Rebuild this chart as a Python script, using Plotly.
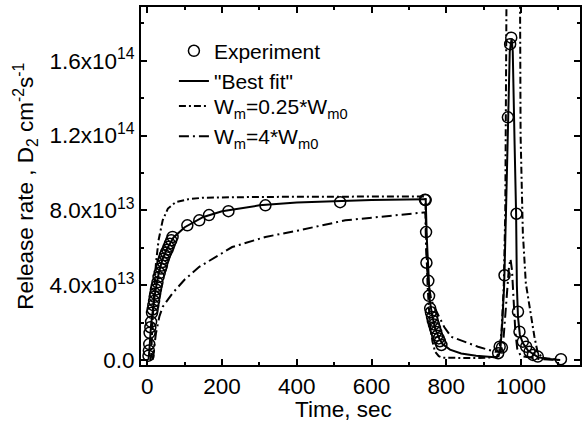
import plotly.graph_objects as go

# values in units of 1e13 D2 cm^-2 s^-1
SCALE = 1e13

# experiment points
exp_t = [3, 4, 5, 6, 8, 10, 12.5, 14, 16, 18, 19.5, 21, 23, 25, 27, 30, 33, 36.5, 39, 41, 44, 47, 50, 54, 57, 60, 64, 67.5,
         107, 139, 165, 217, 316, 516, 743,
         745, 746, 747, 752, 754, 757, 759, 762, 764, 767, 770, 773, 776, 780, 783, 787,
         939, 943, 949, 956, 965, 971, 974, 988, 992, 996, 1005, 1014, 1023, 1032, 1045, 1107]
exp_y = [0.23, 0.5, 0.85, 1.45, 1.75, 2.04, 2.52, 2.7, 2.93, 3.15, 3.38, 3.55, 3.77, 3.95, 4.15, 4.44, 4.65, 4.89, 5.05, 5.24, 5.42, 5.6, 5.75, 5.9, 6.05, 6.22, 6.4, 6.58,
         7.2, 7.47, 7.75, 7.96, 8.27, 8.44, 8.57,
         8.55, 6.84, 5.2, 4.23, 3.43, 2.76, 2.55, 2.3, 2.1, 1.9, 1.7, 1.5, 1.3, 1.15, 1.0, 0.8,
         0.36, 0.71, 0.66, 4.53, 12.98, 16.89, 17.24, 7.82, 2.58, 1.51, 0.98, 0.71, 0.44, 0.27, 0.18, 0.04]

# "Best fit"
fit_t = [3, 5, 10, 15, 20, 30, 40, 50, 70, 100, 150, 200, 300, 400, 500, 600, 742,
         745, 748, 752, 756, 762, 770, 780, 790, 810, 840, 880, 930,
         940, 945, 950, 955, 960, 965, 970, 975, 978, 983, 987, 989, 992, 997, 1005, 1019, 1045, 1070, 1105]
fit_y = [0.0, 0.4, 1.9, 2.8, 3.5, 4.6, 5.35, 5.85, 6.55, 7.1, 7.65, 7.95, 8.27, 8.42, 8.5, 8.55, 8.6,
         8.6, 6.5, 4.5, 3.2, 2.4, 1.7, 1.2, 0.85, 0.55, 0.35, 0.22, 0.15,
         0.2, 0.6, 2.0, 4.0, 8.0, 13.0, 16.5, 17.2, 16.5, 11.5, 7.8, 4.0, 2.3, 1.35, 0.9, 0.5, 0.15, 0.05, 0.0]

# W_m = 0.25*W_m0
wa_t = [8, 10, 14, 18, 23, 30, 41, 55, 76, 110, 150, 300, 500, 744,
        746, 750, 756, 763, 770, 780, 790, 820, 880, 935,
        942, 948, 954, 958, 962, 980, 997, 999, 1005, 1013, 1027, 1036, 1045, 1060, 1100]
wa_y = [0.0, 0.18, 2.1, 3.8, 5.16, 6.4, 7.47, 8.1, 8.44, 8.6, 8.68, 8.72, 8.74, 8.75,
        7.0, 4.0, 2.0, 1.0, 0.44, 0.2, 0.12, 0.1, 0.1, 0.15,
        0.5, 1.5, 4.0, 8.0, 22.0, 30.0, 22.0, 12.0, 6.8, 4.1, 2.3, 1.24, 0.37, 0.1, 0.02]

# W_m = 4*W_m0
wb_t = [14, 18, 23, 32, 41, 67, 100, 139, 227, 316, 405, 530, 725, 744,
        746, 749, 753, 760, 770, 779, 795, 813, 850, 885, 930,
        945, 952, 960, 968, 972, 976, 985, 990, 1000, 1050, 1100]
wb_y = [0.0, 0.7, 1.42, 2.31, 2.84, 3.56, 4.3, 4.98, 6.04, 6.58, 6.93, 7.47, 7.88, 7.9,
        6.0, 4.8, 4.0, 3.2, 2.75, 2.4, 1.75, 1.24, 0.95, 0.71, 0.44,
        0.45, 0.8, 3.0, 5.0, 5.4, 4.8, 1.5, 0.6, 0.2, 0.05, 0.0]

ytick_vals = [0, 4, 8, 12, 16]
ytick_text = ["0.0", "4.0x10<sup>13</sup>", "8.0x10<sup>13</sup>",
              "1.2x10<sup>14</sup>", "1.6x10<sup>14</sup>"]
xtick_vals = [0, 200, 400, 600, 800, 1000]

FONT = "Liberation Sans, Arial, sans-serif"

fig = go.Figure()
fig.add_trace(go.Scatter(
    x=exp_t, y=[v * SCALE for v in exp_y], mode="markers", name="Experiment",
    marker=dict(symbol="circle-open", size=11, color="black", line=dict(width=1.5))
))
fig.add_trace(go.Scatter(
    x=fit_t, y=[v * SCALE for v in fit_y], mode="lines", name='"Best fit"',
    line=dict(color="black", width=2)
))
# the two W_m curves go in a second legend so the row spacing can follow the original
fig.add_trace(go.Scatter(
    x=wa_t, y=[v * SCALE for v in wa_y], mode="lines", name="W<sub>m</sub>=0.25*W<sub>m0</sub>",
    line=dict(color="black", width=2, dash="7px,3px,2px,3px"), legend="legend2"
))
fig.add_trace(go.Scatter(
    x=wb_t, y=[v * SCALE for v in wb_y], mode="lines", name="W<sub>m</sub>=4*W<sub>m0</sub>",
    line=dict(color="black", width=2, dash="10px,4px,2px,4px"), legend="legend2"
))

axis_common = dict(
    showline=True, linecolor="black", linewidth=2, mirror="ticks",
    ticks="inside", ticklen=6, tickwidth=1.5, tickcolor="black",
    showgrid=False, zeroline=False,
    tickfont=dict(family=FONT, size=22.5, color="black"),
)

fig.update_xaxes(
    **axis_common, range=[-17, 1158], tickvals=xtick_vals,
    minor=dict(ticks="inside", dtick=100, tick0=0, ticklen=3, tickwidth=1.5, tickcolor="black"),
)
fig.update_yaxes(
    **axis_common, range=[-0.27 * SCALE, 18.88 * SCALE],
    tickvals=[v * SCALE for v in ytick_vals], ticktext=ytick_text,
    minor=dict(ticks="inside", dtick=2 * SCALE, tick0=0, ticklen=3, tickwidth=1.5, tickcolor="black"),
)

fig.add_annotation(
    text="Time, sec", xref="paper", yref="paper", x=0.462, y=-0.125,
    xanchor="center", yanchor="middle", showarrow=False,
    font=dict(family=FONT, size=22.5, color="black")
)
fig.add_annotation(
    text="Release rate , D<sub>2</sub> cm<sup>-2</sup>s<sup>-1</sup>",
    xref="paper", yref="paper", x=-0.265, y=0.5, textangle=-90,
    xanchor="center", yanchor="middle", showarrow=False,
    font=dict(family=FONT, size=22.5, color="black")
)

legend_font = dict(family=FONT, size=21, color="black")
fig.update_layout(
    width=587, height=422,
    margin=dict(l=141, r=5, t=6, b=57),
    plot_bgcolor="white", paper_bgcolor="white",
    font=dict(family=FONT, size=22, color="black"),
    legend=dict(x=0.075, y=0.934, xanchor="left", yanchor="top",
                bgcolor="rgba(0,0,0,0)", font=legend_font),
    legend2=dict(x=0.075, y=0.78, xanchor="left", yanchor="top",
                 bgcolor="rgba(0,0,0,0)", font=legend_font),
    showlegend=True,
)

# page body has a default 8px margin; drop it so the figure sits at the corner
fig.write_html("out.html", config={"displayModeBar": False},
               post_script="document.body.style.margin='0';")
